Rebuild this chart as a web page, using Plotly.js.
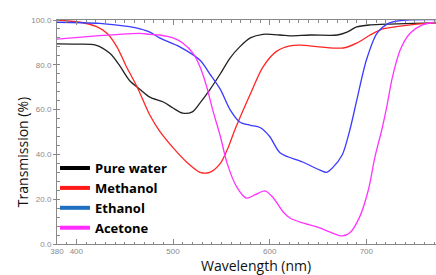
<!DOCTYPE html>
<html>
<head>
<meta charset="utf-8">
<script src="https://cdn.plot.ly/plotly-3.0.1.min.js"></script>
<style>
html,body{margin:0;padding:0;overflow:hidden;background:#fff;width:436px;height:275px;}
#chart{width:470px;height:285px;}
</style>
</head>
<body>
<div id="chart"></div>
<script>
// Data (wavelength nm, transmission %)
const waterX = [380,400,420,435,445,455,466,476,490,500,510,520,528,538,549,559,569,580,593,611,621,642,670,680,690,704,724,772,800];
const waterY = [89.3,89.2,88.8,85,79.5,73,69,65.6,63.4,60.7,58.4,59,63,68.8,76,83,88,92,93.6,93.3,92.9,93.3,93.3,94.6,96.9,97.8,98.2,98.7,99];

const methX = [380,404,421,432,442,452,463,476,486,500,514,528,538,549,557,564,580,593,607,621,632,652,676,690,704,717,735,772,800];
const methY = [100,99,97,94,88,79,70,57.6,50.5,43,36.6,32,32,36,43,51,67,79,86,88.5,88.8,88,87.5,89.7,93.3,96,97.3,98.7,99];

const ethX = [380,424,455,466,476,486,507,528,538,549,559,569,580,590,600,611,634,652,659,665,675,683,690,700,711,724,742,800];
const ethY = [99,98.5,97,96,94.6,92,88,82,76,69,60,54.5,53,52,48,40.6,36.6,33,32,34,39.7,51,64,82,94,98.7,100,100];

const aceX = [380,424,452,466,476,486,500,510,521,528,535,541,549,556,566,576,585,595,603,614,621,634,649,662,675,683,693,702,709,716,721,727,735,745,758,772,800];
const aceY = [91.5,93,93.8,94,93.6,93.3,92,89.7,85,79,70,60,48,36,25.4,20.5,22,23.7,21,14.3,11.6,9.4,7.6,5.4,3.6,5,12,24,39,51,61,74.5,86.6,94,97.8,99,99.5];

const seriesNames = ["Pure water","Methanol","Ethanol","Acetone"];
const lineColors = ["#222222","#ff2626","#3a3aff","#ff33ff"];
const legendColors = ["#000000","#ff1a1a","#1f6fc0","#ff2bff"];

const xTickVals = [380,400,500,600,700,800];
const xTickText = ["380","400","500","600","700","800"];
const yTickVals = [0,20,40,60,80,100];
const yTickText = ["0.0","20.0","40.0","60.0","80.0","100.0"];

const xs = [waterX, methX, ethX, aceX];
const ys = [waterY, methY, ethY, aceY];

const traces = [];
for (let i = 0; i < 4; i++) {
  traces.push({
    x: xs[i], y: ys[i], type: 'scatter', mode: 'lines',
    line: {color: lineColors[i], width: 1.3, shape: 'spline', smoothing: 0.8},
    showlegend: false, hoverinfo: 'skip'
  });
}
for (let i = 0; i < 4; i++) {
  traces.push({
    x: [null], y: [null], type: 'scatter', mode: 'lines',
    name: seriesNames[i],
    line: {color: legendColors[i], width: 4},
    showlegend: true
  });
}

const tickFont = {family: 'Liberation Sans, Arial, sans-serif', size: 8, color: '#8a8a8a'};

const layout = {
  width: 470, height: 285,
  margin: {l: 57, r: 7, t: 20, b: 41},
  paper_bgcolor: '#ffffff', plot_bgcolor: '#ffffff',
  showlegend: true,
  legend: {
    x: -0.005, y: 0.406, xanchor: 'left', yanchor: 'top',
    bgcolor: 'rgba(0,0,0,0)', borderwidth: 0,
    font: {family: 'Open Sans, sans-serif', size: 13, color: '#000', weight: 'bold'},
    itemwidth: 30, tracegroupgap: 0
  },
  xaxis: {
    range: [380, 800], showgrid: false, zeroline: false,
    showline: true, linecolor: '#888', linewidth: 1, mirror: 'ticks',
    tickmode: 'array', tickvals: xTickVals, ticktext: xTickText,
    ticks: 'inside', ticklen: 5, tickcolor: '#888', tickwidth: 1,
    tickfont: tickFont, ticklabelstandoff: -1,
    minor: {tickmode: 'linear', tick0: 380, dtick: 10, ticks: 'inside', ticklen: 2.5, tickcolor: '#888', showgrid: false}
  },
  yaxis: {
    range: [0, 100], showgrid: false, zeroline: false,
    showline: true, linecolor: '#888', linewidth: 1, mirror: false,
    tickmode: 'array', tickvals: yTickVals, ticktext: yTickText,
    ticks: 'outside', ticklen: 3, tickcolor: '#888', tickwidth: 1,
    tickfont: tickFont,
    minor: {tickmode: 'linear', tick0: 0, dtick: 4, ticks: 'inside', ticklen: 2.5, tickcolor: '#888', showgrid: false}
  },
  annotations: [
    {text: 'Transmission (%)', xref: 'paper', yref: 'paper', x: 0, y: 0.41,
     xshift: -35, xanchor: 'center', yanchor: 'middle', textangle: -90, showarrow: false,
     font: {family: 'Open Sans, sans-serif', size: 14, color: '#111'}},
    {text: 'Wavelength (nm)', xref: 'paper', yref: 'paper', x: 0.49, y: 0,
     yshift: -21.5, xanchor: 'center', yanchor: 'middle', showarrow: false,
     font: {family: 'Open Sans, sans-serif', size: 14, color: '#111'}}
  ]
};

Plotly.newPlot('chart', traces, layout, {displayModeBar: false, staticPlot: true});
</script>
</body>
</html>
